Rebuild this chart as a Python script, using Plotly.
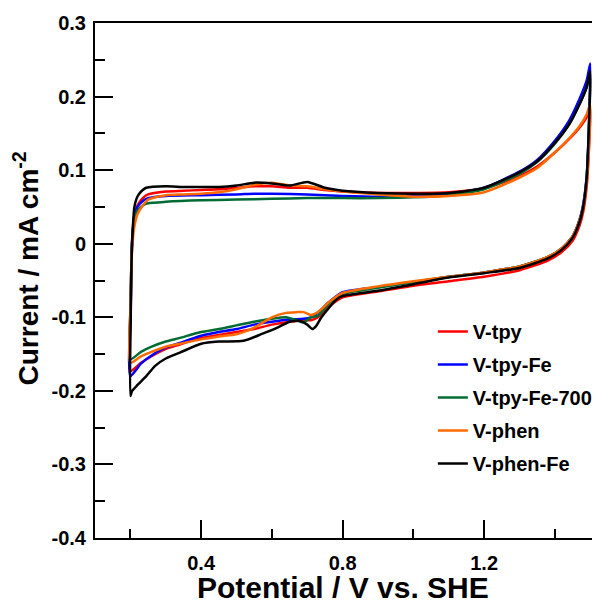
import plotly.graph_objects as go

# Cyclic voltammograms, 0.2 - 1.5 V vs. SHE
# each curve: lower (cathodic) branch from 1.5 V back to 0.2 V, then upper (anodic) branch 0.2 -> 1.5 V

labels = ["V-tpy", "V-tpy-Fe", "V-tpy-Fe-700", "V-phen", "V-phen-Fe"]
colores = ["#ff0000", "#0000ff", "#006b33", "#ff6a00", "#000000"]

x_ticks = [0.4, 0.8, 1.2]
x_ticktext = ["0.4", "0.8", "1.2"]
y_ticks = [-0.4, -0.3, -0.2, -0.1, 0, 0.1, 0.2, 0.3]
y_ticktext = ["-0.4", "-0.3", "-0.2", "-0.1", "0", "0.1", "0.2", "0.3"]

# --- V-tpy ---
tpy_low_v = [1.5, 1.497, 1.494, 1.49, 1.48, 1.47, 1.45, 1.42, 1.38, 1.3, 1.2, 1.1, 1.0, 0.9, 0.8, 0.76, 0.73,
             0.71, 0.69, 0.65, 0.6, 0.55, 0.5, 0.45, 0.4, 0.34, 0.3, 0.26, 0.23, 0.2]
tpy_low_i = [0.185, 0.135, 0.105, 0.078, 0.043, 0.025, 0.004, -0.011, -0.023, -0.036, -0.045, -0.051, -0.057,
             -0.065, -0.073, -0.086, -0.1, -0.104, -0.104, -0.106, -0.11, -0.116, -0.12, -0.124, -0.128, -0.137,
             -0.143, -0.153, -0.162, -0.173]
tpy_up_v = [0.2, 0.201, 0.203, 0.206, 0.21, 0.22, 0.235, 0.25, 0.3, 0.35, 0.4, 0.45, 0.5, 0.55, 0.6, 0.65, 0.7,
            0.75, 0.8, 0.9, 1.0, 1.1, 1.2, 1.3, 1.35, 1.4, 1.44, 1.47, 1.49, 1.5]
tpy_up_i = [-0.173, -0.09, -0.02, 0.015, 0.035, 0.052, 0.062, 0.067, 0.071, 0.072, 0.073, 0.074, 0.076, 0.078,
            0.078, 0.076, 0.076, 0.073, 0.071, 0.069, 0.069, 0.07, 0.075, 0.092, 0.105, 0.124, 0.142, 0.158,
            0.172, 0.185]

# --- V-tpy-Fe ---
tpyfe_low_v = [1.5, 1.497, 1.494, 1.49, 1.48, 1.47, 1.45, 1.42, 1.38, 1.3, 1.2, 1.1, 1.0, 0.9, 0.8, 0.76, 0.73,
               0.71, 0.69, 0.65, 0.6, 0.55, 0.5, 0.45, 0.4, 0.34, 0.3, 0.26, 0.23, 0.2]
tpyfe_low_i = [0.245, 0.17, 0.128, 0.092, 0.053, 0.033, 0.01, -0.006, -0.018, -0.031, -0.039, -0.045, -0.052,
               -0.059, -0.066, -0.08, -0.094, -0.1, -0.102, -0.103, -0.106, -0.11, -0.116, -0.12, -0.125,
               -0.135, -0.141, -0.152, -0.163, -0.18]
tpyfe_up_v = [0.2, 0.201, 0.203, 0.206, 0.21, 0.22, 0.235, 0.25, 0.3, 0.4, 0.5, 0.55, 0.6, 0.7, 0.8, 0.9, 1.0,
              1.1, 1.2, 1.3, 1.35, 1.4, 1.44, 1.47, 1.49, 1.5]
tpyfe_up_i = [-0.18, -0.09, -0.02, 0.012, 0.03, 0.05, 0.058, 0.062, 0.065, 0.066, 0.067, 0.068, 0.068, 0.067,
              0.065, 0.064, 0.065, 0.068, 0.076, 0.098, 0.114, 0.14, 0.167, 0.197, 0.222, 0.245]

# --- V-tpy-Fe-700 ---
tpy700_low_v = [1.5, 1.497, 1.494, 1.49, 1.48, 1.47, 1.45, 1.42, 1.38, 1.3, 1.2, 1.1, 1.0, 0.9, 0.8, 0.76, 0.73,
                0.71, 0.69, 0.67, 0.64, 0.6, 0.55, 0.5, 0.45, 0.4, 0.34, 0.3, 0.26, 0.23, 0.2]
tpy700_low_i = [0.232, 0.165, 0.125, 0.09, 0.052, 0.032, 0.01, -0.006, -0.018, -0.031, -0.039, -0.045, -0.052,
                -0.06, -0.068, -0.082, -0.098, -0.1, -0.107, -0.104, -0.1, -0.102, -0.106, -0.111, -0.116, -0.12,
                -0.128, -0.133, -0.14, -0.147, -0.157]
tpy700_up_v = [0.2, 0.201, 0.203, 0.206, 0.21, 0.22, 0.235, 0.25, 0.3, 0.4, 0.5, 0.6, 0.7, 0.8, 0.9, 1.0, 1.1,
               1.2, 1.3, 1.35, 1.4, 1.44, 1.47, 1.49, 1.5]
tpy700_up_i = [-0.157, -0.08, -0.02, 0.01, 0.027, 0.045, 0.052, 0.055, 0.057, 0.059, 0.06, 0.061, 0.062, 0.062,
               0.062, 0.063, 0.066, 0.074, 0.095, 0.111, 0.136, 0.162, 0.19, 0.213, 0.232]

# --- V-phen ---
phen_low_v = [1.5, 1.497, 1.494, 1.49, 1.48, 1.47, 1.45, 1.42, 1.38, 1.3, 1.2, 1.1, 1.0, 0.9, 0.8, 0.76, 0.73,
              0.71, 0.69, 0.67, 0.64, 0.6, 0.55, 0.5, 0.45, 0.4, 0.34, 0.3, 0.26, 0.23, 0.2]
phen_low_i = [0.19, 0.14, 0.11, 0.085, 0.05, 0.032, 0.01, -0.006, -0.018, -0.031, -0.039, -0.045, -0.051, -0.058,
              -0.067, -0.08, -0.093, -0.097, -0.093, -0.093, -0.094, -0.1, -0.114, -0.123, -0.126, -0.13, -0.136,
              -0.14, -0.147, -0.153, -0.162]
phen_up_v = [0.2, 0.201, 0.203, 0.206, 0.21, 0.22, 0.235, 0.25, 0.3, 0.35, 0.4, 0.45, 0.5, 0.55, 0.6, 0.65, 0.7,
             0.75, 0.8, 0.9, 1.0, 1.1, 1.2, 1.3, 1.35, 1.4, 1.44, 1.47, 1.49, 1.5]
phen_up_i = [-0.162, -0.08, -0.025, 0.0, 0.02, 0.04, 0.052, 0.06, 0.066, 0.067, 0.068, 0.07, 0.074, 0.08, 0.083,
             0.079, 0.078, 0.074, 0.071, 0.067, 0.064, 0.065, 0.07, 0.09, 0.103, 0.124, 0.143, 0.16, 0.176, 0.19]

# --- V-phen-Fe ---
phenfe_low_v = [1.5, 1.497, 1.494, 1.49, 1.48, 1.47, 1.45, 1.42, 1.38, 1.3, 1.2, 1.1, 1.0, 0.9, 0.8, 0.78, 0.76,
                0.74, 0.725, 0.714, 0.7, 0.68, 0.65, 0.62, 0.57, 0.52, 0.45, 0.4, 0.34, 0.3, 0.27, 0.245, 0.22,
                0.205, 0.2]
phenfe_low_i = [0.235, 0.17, 0.13, 0.09, 0.05, 0.03, 0.008, -0.008, -0.02, -0.033, -0.04, -0.046, -0.055, -0.064,
                -0.071, -0.077, -0.088, -0.1, -0.112, -0.116, -0.11, -0.105, -0.106, -0.113, -0.123, -0.132,
                -0.133, -0.136, -0.148, -0.156, -0.166, -0.18, -0.192, -0.2, -0.207]
phenfe_up_v = [0.2, 0.201, 0.203, 0.205, 0.208, 0.211, 0.218, 0.225, 0.235, 0.245, 0.3, 0.35, 0.4, 0.45, 0.5,
               0.55, 0.6, 0.65, 0.7, 0.75, 0.8, 0.9, 1.0, 1.1, 1.2, 1.3, 1.35, 1.4, 1.44, 1.47, 1.49, 1.5]
phenfe_up_i = [-0.207, -0.1, -0.03, 0.0, 0.03, 0.049, 0.062, 0.068, 0.073, 0.076, 0.078, 0.077, 0.077, 0.077,
               0.079, 0.083, 0.082, 0.079, 0.084, 0.076, 0.072, 0.069, 0.068, 0.069, 0.076, 0.097, 0.112, 0.137,
               0.162, 0.19, 0.213, 0.235]

curvas = [
    (tpy_low_v + tpy_up_v[1:], tpy_low_i + tpy_up_i[1:]),
    (tpyfe_low_v + tpyfe_up_v[1:], tpyfe_low_i + tpyfe_up_i[1:]),
    (tpy700_low_v + tpy700_up_v[1:], tpy700_low_i + tpy700_up_i[1:]),
    (phen_low_v + phen_up_v[1:], phen_low_i + phen_up_i[1:]),
    (phenfe_low_v + phenfe_up_v[1:], phenfe_low_i + phenfe_up_i[1:]),
]

fuente = "Arial, 'Liberation Sans', sans-serif"

fig = go.Figure()
for k, (v, i) in enumerate(curvas):
    fig.add_trace(go.Scatter(x=v, y=i, mode='lines', name=labels[k], legendgroup=labels[k],
                             line=dict(color=colores[k], width=2.5, shape='spline', smoothing=0.6)))

eje = dict(showgrid=False, zeroline=False, showline=True, linecolor='black', linewidth=2,
           ticks='inside', tickwidth=2, ticklen=18, tickcolor='black',
           tickfont=dict(family=fuente, size=20, color='black', weight='bold'))

# la pagina tiene un margen de 8 px en el body, por eso la figura es 592x595
fig.update_layout(
    width=592, height=595,
    margin=dict(l=87, r=0, t=15, b=65),
    paper_bgcolor='white', plot_bgcolor='white',
    showlegend=True,
    legend=dict(x=0.669, y=0.439, xanchor='left', yanchor='top', bgcolor='rgba(0,0,0,0)',
                font=dict(family=fuente, size=20, color='black', weight='bold'),
                tracegroupgap=4, itemwidth=30),
    xaxis=dict(eje, range=[0.1, 1.5276], tickvals=x_ticks, ticktext=x_ticktext, mirror=True,
               minor=dict(ticks='inside', ticklen=9, tickwidth=2, tickcolor='black', dtick=0.2, tick0=0),
               ticklabelstandoff=6),
    yaxis=dict(eje, range=[-0.4, 0.3], tickvals=y_ticks, ticktext=y_ticktext,
               minor=dict(ticks='inside', ticklen=10, tickwidth=2, tickcolor='black', dtick=0.05, tick0=0),
               ticklabelstandoff=3),
    annotations=[
        dict(text="Potential / V vs. SHE", xref='paper', yref='paper', x=0.492, y=-0.096,
             xanchor='center', yanchor='middle', showarrow=False,
             font=dict(family=fuente, size=30, color='black', weight='bold')),
        dict(text="Current / mA cm<sup>-2</sup>", xref='paper', yref='paper', x=-0.136, y=0.524,
             xanchor='center', yanchor='middle', textangle=-90, showarrow=False,
             font=dict(family=fuente, size=28, color='black', weight='bold')),
    ],
)

fig.write_html("out.html")
